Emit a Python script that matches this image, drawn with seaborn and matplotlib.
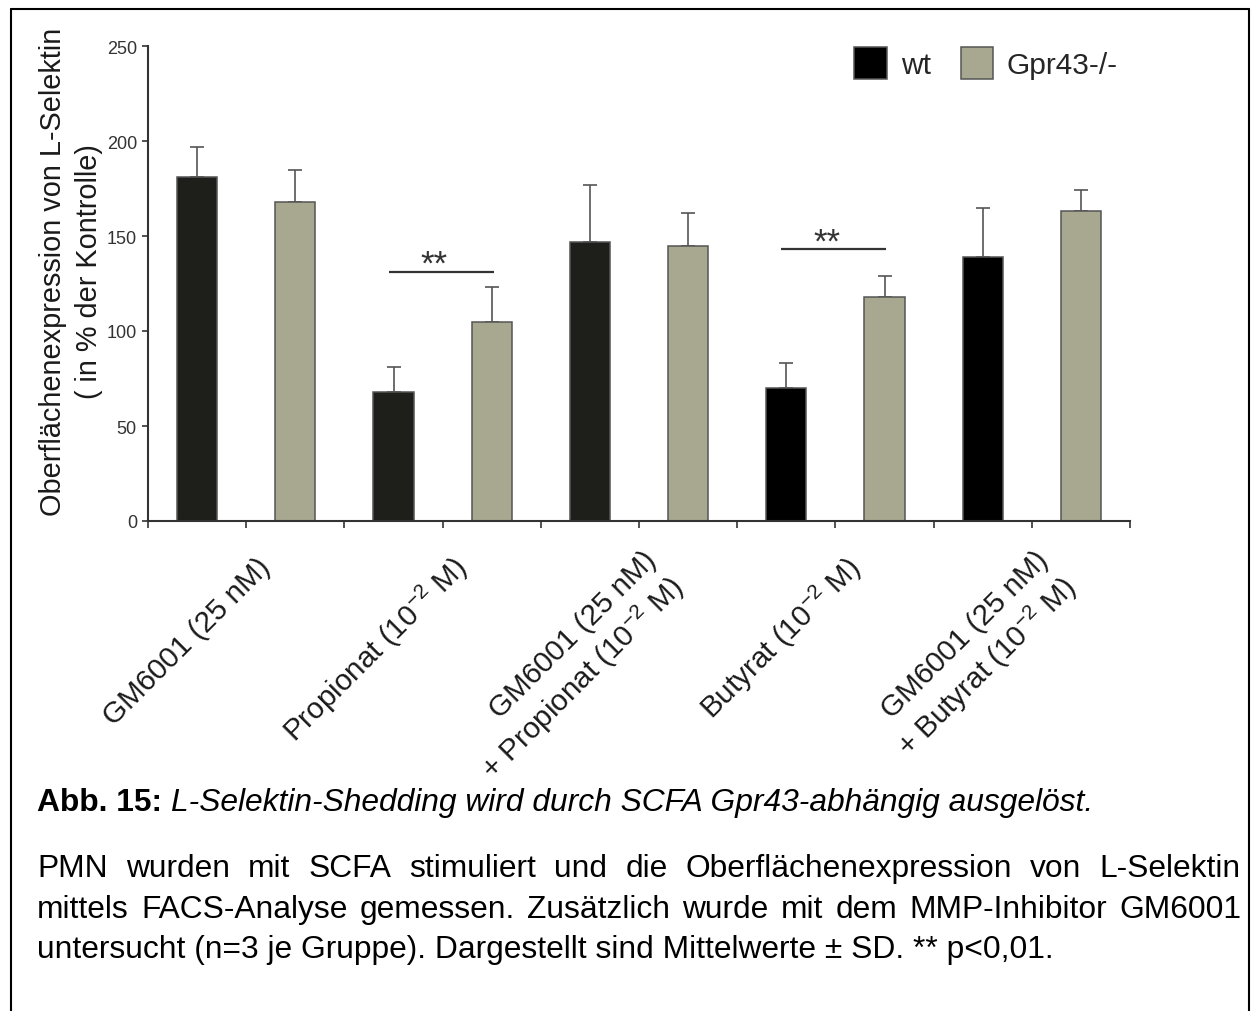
import numpy as np
import pandas as pd
import matplotlib
matplotlib.use("Agg")
import matplotlib.pyplot as plt
import seaborn as sns
from matplotlib.lines import Line2D
from matplotlib.transforms import ScaledTranslation

# ---------------- data ----------------
groups = [
    "GM6001 (25 nM)",
    "Propionat (10$^{\\mathregular{-2}}$ M)",
    "GM6001 (25 nM)\n+ Propionat (10$^{\\mathregular{-2}}$ M)",
    "Butyrat (10$^{\\mathregular{-2}}$ M)",
    "GM6001 (25 nM)\n+ Butyrat (10$^{\\mathregular{-2}}$ M)",
]
genotypes = ["wt", "Gpr43-/-"]
wt_mean = [181, 68, 147, 70, 139]
wt_sd = [16, 13, 30, 13, 26]
ko_mean = [168, 105, 145, 118, 163]
ko_sd = [17, 18, 17, 11, 11]
y_ticks = [0, 50, 100, 150, 200, 250]
ylabel = "Oberflächenexpression von L-Selektin\n( in % der Kontrolle)"
title_bold = "Abb. 15:"
title_italic = "L-Selektin-Shedding wird durch SCFA Gpr43-abhängig ausgelöst."
caption_lines = [
    "PMN wurden mit SCFA stimuliert und die Oberflächenexpression von L-Selektin",
    "mittels FACS-Analyse gemessen. Zusätzlich wurde mit dem MMP-Inhibitor GM6001",
    "untersucht (n=3 je Gruppe). Dargestellt sind Mittelwerte ± SD. ** p<0,01.",
]
sig_pairs = [(1, "**"), (3, "**")]  # group index, label

# ---------------- table ----------------
rows = []
for i, g in enumerate(groups):
    rows.append({"slot": f"{i}-wt", "genotype": "wt", "value": wt_mean[i], "sd": wt_sd[i]})
    rows.append({"slot": f"{i}-ko", "genotype": "Gpr43-/-", "value": ko_mean[i], "sd": ko_sd[i]})
df = pd.DataFrame(rows)
order = list(df["slot"])

# ---------------- style ----------------
sns.set_style("ticks")
plt.rcParams["font.family"] = ["Liberation Sans", "DejaVu Sans"]
plt.rcParams["mathtext.fontset"] = "custom"
plt.rcParams["mathtext.rm"] = "Liberation Sans"
plt.rcParams["mathtext.it"] = "Liberation Sans:italic"

W, H = 1258, 1012
fig = plt.figure(figsize=(W / 100, H / 100), dpi=100)
ax = fig.add_axes([148 / W, 1 - 522 / H, (1130 - 148) / W, (522 - 47) / H])

dark = "#1e1e1a"
khaki = "#acab8c"
edge = "#555555"
sns.barplot(data=df, x="slot", y="value", hue="genotype", order=order,
            hue_order=genotypes, palette={"wt": dark, "Gpr43-/-": khaki},
            dodge=False, width=0.41, edgecolor=edge, linewidth=1.1,
            errorbar=None, ax=ax, legend=True)

# Butyrat wt bars are pure black in the reference
for p in ax.patches:
    cx = p.get_x() + p.get_width() / 2
    if abs(cx - 6) < 0.3 or abs(cx - 8) < 0.3:
        p.set_facecolor("#000000")

pos = np.arange(len(order))
ax.errorbar(pos, df["value"], yerr=[np.zeros(len(df)), df["sd"]], fmt="none",
            ecolor="#555555", elinewidth=1.2, capsize=5, capthick=1.2, zorder=1)
for p in ax.patches:
    p.set_zorder(2)

ax.set_xlim(-0.5, len(order) - 0.5)
ax.set_ylim(0, 250)
ax.set_yticks(y_ticks)
ax.set_yticklabels([str(t) for t in y_ticks], fontsize=13, color="#333333")
ax.tick_params(axis="y", length=4, width=1.2, color="#333333", pad=4)

xt = np.arange(-0.5, len(order), 1.0)
ax.set_xticks(xt)
labs = []
for t in xt:
    k = int(round(t + 0.5))
    if k % 2 == 1:
        labs.append(groups[(k - 1) // 2])
    else:
        labs.append("")
ax.set_xticklabels(labs, rotation=45, ha="right", va="center",
                   rotation_mode="anchor", fontsize=21.3, color="#1a1a1a",
                   multialignment="right", linespacing=1.2)
ax.tick_params(axis="x", length=5, width=1.2, color="#333333", pad=0)
for lab in ax.get_xticklabels():
    txt = lab.get_text()
    if not txt:
        continue
    if "\n" in txt:
        dx, dy = 27, 42
    else:
        dx, dy = 20, 34
    lab.set_transform(lab.get_transform() + ScaledTranslation(dx / 100, -dy / 100, fig.dpi_scale_trans))

ax.set_xlabel("")
ax.set_ylabel("")
for s in ["top", "right"]:
    ax.spines[s].set_visible(False)
for s in ["left", "bottom"]:
    ax.spines[s].set_color("#333333")
    ax.spines[s].set_linewidth(1.5)

# significance brackets
sig_y = [131, 143]
for (gi, lab), yy in zip(sig_pairs, sig_y):
    x0 = 2 * gi - 0.05
    x1 = 2 * gi + 1 + 0.02
    ax.plot([x0, x1], [yy, yy], color="#333333", lw=1.6, solid_capstyle="butt")
    ax.text((x0 + x1) / 2 - 0.07, yy + 4, lab, ha="center", va="center",
            fontsize=25, color="#333333")

# legend
handles, labels = ax.get_legend_handles_labels()
for h in handles:
    h.set_edgecolor(edge)
handles[0].set_facecolor("#000000")
leg = ax.legend(handles, labels, loc="upper right", bbox_to_anchor=(1118 / W, 1 - 48 / H),
                bbox_transform=fig.transFigure, ncol=2, frameon=False, fontsize=21.5,
                handlelength=1.1, handleheight=1.25, handletextpad=0.45,
                columnspacing=1.0, borderaxespad=0, borderpad=0)

# y label
fig.text(71 / W, 1 - 272 / H, ylabel, rotation=90, ha="center", va="center",
         multialignment="center", fontsize=20.8, linespacing=1.4, color="#1a1a1a")

# caption
fig.canvas.draw()
renderer = fig.canvas.get_renderer()
cap_fs = 22.9
x_left = 37
x_right = 1241

def wpx(t):
    bb = t.get_window_extent(renderer=renderer)
    return bb.width

tb = fig.text(x_left / W, 1 - 811 / H, title_bold + " ", fontsize=cap_fs,
              fontweight="bold", ha="left", va="baseline", color="black")
wb = wpx(tb)
fig.text((x_left + wb) / W, 1 - 811 / H, title_italic, fontsize=cap_fs,
         style="italic", ha="left", va="baseline", color="black")

baselines = [877, 918, 958]
for li, (line, yb) in enumerate(zip(caption_lines, baselines)):
    if li < len(caption_lines) - 1:
        words = line.split(" ")
        tmp = [fig.text(0, 0, w, fontsize=cap_fs) for w in words]
        widths = [wpx(t) for t in tmp]
        for t in tmp:
            t.remove()
        gap = (x_right - x_left - sum(widths)) / (len(words) - 1)
        x = x_left
        for w, ww in zip(words, widths):
            fig.text(x / W, 1 - yb / H, w, fontsize=cap_fs, ha="left", va="baseline", color="black")
            x += ww + gap
    else:
        fig.text(x_left / W, 1 - yb / H, line, fontsize=cap_fs, ha="left", va="baseline", color="black")

# frame lines around the figure (no bottom line)
lw = 1.5
fig.add_artist(Line2D([10.5 / W, 10.5 / W], [0, 1 - 10 / H], transform=fig.transFigure, color="black", lw=lw))
fig.add_artist(Line2D([10.5 / W, 1249 / W], [1 - 10 / H, 1 - 10 / H], transform=fig.transFigure, color="black", lw=lw))
fig.add_artist(Line2D([1249 / W, 1249 / W], [0, 1 - 10 / H], transform=fig.transFigure, color="black", lw=lw))

fig.savefig("out.png", dpi=100)
